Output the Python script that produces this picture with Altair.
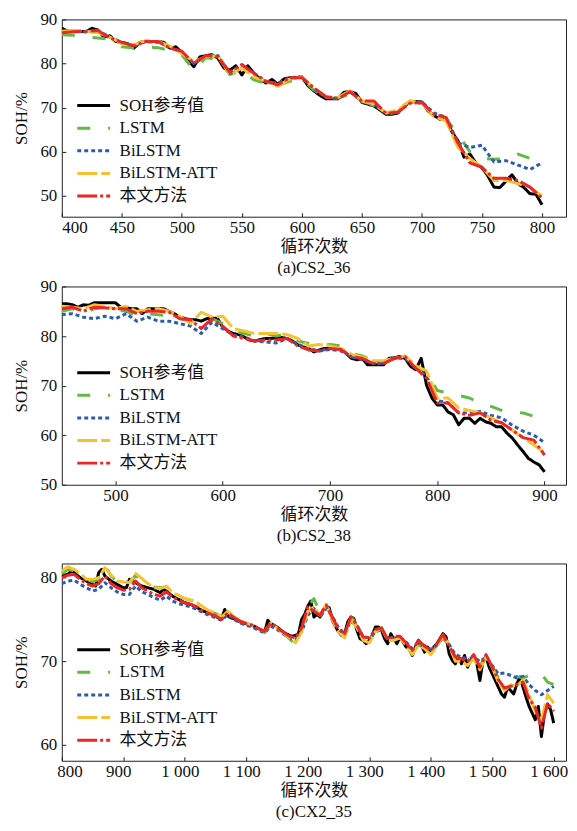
import altair as alt
import pandas as pd

SERIES = ["SOH参考值", "LSTM", "BiLSTM", "BiLSTM-ATT", "本文方法"]
COLORS = ["#000000", "#62ba46", "#2b5cae", "#f6c230", "#ea2726"]
DASHES = [[1, 0], [13, 18], [4, 3], [20, 4], [20, 3, 3, 3]]
WIDTHS = [3, 3, 3, 3, 3]
FONT = "'Liberation Serif', 'Times New Roman', 'Noto Sans CJK SC'"

# ---------------- (a) CS2_36 ----------------
a_ref_x = list(range(400, 801, 5))
a_ref = [88.0, 87.3, 87.3, 87.3, 87.2, 88.0, 87.6, 86.0, 86.3, 85.0,
         84.8, 84.5, 83.5, 84.8, 85.0, 85.0, 85.0, 84.8, 83.5, 83.8,
         82.5, 80.8, 79.3, 81.5, 81.8, 82.0, 81.2, 79.0, 78.5, 79.5,
         77.4, 79.5, 77.8, 76.5, 75.6, 76.4, 75.3, 76.5, 76.8, 76.8,
         77.0, 75.0, 73.8, 72.8, 72.0, 72.0, 72.0, 73.5, 73.7, 73.2,
         71.2, 70.8, 70.4, 69.5, 68.5, 68.5, 68.8, 70.5, 71.3, 71.4,
         71.3, 69.3, 68.2, 67.4, 67.5, 64.5, 62.5, 58.8, 59.5, 57.4,
         56.4, 54.5, 52.0, 51.9, 53.4, 54.8, 52.8, 51.9, 50.5, 50.4,
         48.0]
a_pred_x = list(range(400, 801, 10))
a_lstm = [86.5, 86.4, 86.0, 85.8, 85.5, 83.8, 83.5, 83.8, 83.6, 83.0,
          82.0, 78.5, 81.3, 81.0, 77.5, 78.5, 76.3, 75.5, 75.0, 76.0,
          76.5, 74.0, 72.3, 72.3, 73.0, 71.5, 70.5, 68.5, 69.0, 71.0,
          71.0, 68.5, 67.5, 64.0, 60.0, 58.5, 58.3, 58.5, 59.5, 58.5,
          58.0]
a_bilstm = [87.3, 87.3, 87.2, 87.5, 86.0, 84.8, 84.0, 85.0, 84.8, 83.8,
            82.5, 80.0, 81.7, 81.8, 77.8, 79.0, 77.8, 76.0, 75.5, 76.8,
            77.0, 74.2, 72.3, 72.0, 73.8, 71.3, 70.8, 68.8, 69.0, 71.3,
            71.3, 68.8, 67.8, 62.0, 61.0, 61.5, 57.7, 58.0, 57.0, 56.0,
            57.5]
a_att = [87.3, 87.5, 87.3, 87.0, 86.0, 84.5, 84.3, 85.2, 85.0, 84.0,
         82.3, 80.5, 81.5, 81.8, 77.5, 79.0, 77.0, 76.0, 74.8, 76.5,
         77.0, 74.5, 72.5, 72.3, 73.8, 71.5, 70.8, 68.8, 69.5, 71.6,
         71.0, 68.0, 67.0, 61.0, 58.5, 56.5, 53.5, 53.5, 52.8, 52.0,
         50.0]
a_ours = [87.0, 87.2, 87.3, 87.5, 85.8, 84.8, 84.0, 85.0, 85.0, 83.5,
          82.8, 80.0, 81.8, 81.5, 78.0, 79.8, 77.8, 76.0, 75.2, 76.8,
          76.8, 74.5, 72.5, 72.0, 73.6, 71.5, 71.5, 68.7, 69.0, 71.0,
          71.2, 68.5, 67.8, 62.0, 57.5, 56.5, 54.0, 54.0, 53.5, 52.0,
          49.5]

# ---------------- (b) CS2_38 ----------------
b_ref_x = list(range(450, 901, 5))
b_ref = [86.5, 86.5, 86.3, 85.8, 86.3, 86.2, 86.7, 86.7, 86.7, 86.7,
         86.7, 85.8, 85.7, 85.5, 85.5, 84.5, 85.5, 85.5, 85.5, 85.5,
         85.0, 84.5, 83.8, 83.5, 83.3, 83.3, 83.0, 83.5, 83.6, 83.6,
         81.8, 81.0, 80.5, 80.3, 79.8, 79.2, 79.0, 79.3, 79.5, 79.5,
         79.7, 79.7, 79.5, 79.0, 78.2, 77.8, 77.5, 76.8, 77.2, 77.5,
         77.5, 77.4, 77.5, 76.5, 75.5, 75.2, 75.5, 74.2, 74.2, 74.2,
         74.2, 75.5, 75.6, 75.9, 75.5, 73.9, 73.2, 75.5, 70.1, 67.5,
         66.1, 66.1, 64.7, 64.1, 62.1, 63.4, 63.4, 62.4, 63.4, 62.7,
         62.4, 61.7, 61.7, 60.4, 59.4, 58.0, 56.7, 55.3, 54.6, 54.0,
         52.6]
b_pred_x = list(range(450, 901, 10))
b_lstm = [85.0, 85.5, 84.5, 85.5, 85.8, 85.3, 85.0, 84.0, 84.5, 84.3,
          84.0, 83.5, 83.0, 83.5, 83.5, 82.5, 81.0, 80.5, 80.0, 80.5,
          80.0, 80.5, 79.0, 78.5, 78.0, 78.3, 78.0, 76.5, 76.0, 75.0,
          75.0, 75.5, 75.5, 73.5, 72.8, 69.0, 68.5, 68.0, 67.5, 66.5,
          65.8, 65.0, 64.5, 64.5, 63.8, 63.3]
b_bilstm = [84.3, 84.5, 83.8, 83.5, 84.0, 83.5, 84.5, 83.0, 83.8, 83.0,
            83.0, 82.5, 82.0, 80.5, 82.8, 81.5, 80.2, 79.8, 79.0, 78.8,
            78.6, 79.5, 78.3, 77.5, 77.0, 77.3, 77.0, 75.8, 75.2, 74.5,
            74.5, 75.5, 75.5, 73.5, 72.0, 67.0, 66.5, 64.5, 64.5, 64.8,
            64.0, 63.5, 62.0, 60.8, 60.0, 58.5]
b_att = [86.0, 85.8, 85.5, 86.3, 86.0, 85.5, 86.0, 85.0, 85.3, 85.5,
         85.0, 84.0, 82.5, 84.8, 83.8, 84.0, 81.5, 81.0, 80.5, 80.5,
         80.5, 80.3, 79.5, 78.0, 78.3, 78.0, 77.5, 76.3, 75.8, 75.0,
         75.0, 75.5, 76.0, 74.0, 73.0, 67.5, 67.5, 65.5, 65.0, 64.5,
         63.5, 62.5, 61.0, 59.5, 58.0, 56.5]
b_ours = [85.5, 85.8, 85.0, 85.8, 85.7, 85.5, 85.5, 84.5, 85.0, 85.0,
          84.8, 83.5, 83.3, 81.5, 83.5, 82.0, 80.0, 79.5, 79.0, 79.2,
          79.2, 79.5, 78.0, 77.2, 77.0, 77.5, 77.3, 75.8, 75.5, 74.5,
          74.5, 75.5, 75.8, 73.5, 71.5, 66.5, 66.5, 64.5, 64.0, 64.5,
          63.0, 62.5, 61.0, 59.5, 59.0, 56.0]

# ---------------- (c) CX2_35 ----------------
c_ref_x = list(range(800, 1601, 5))
c_ref = [80.1, 80.3, 80.4, 80.8, 80.6, 80.3, 80.0, 79.8, 79.6, 79.4,
         79.2, 79.0, 80.6, 81.0, 80.2, 79.9, 79.6, 79.4, 79.2, 79.0,
         78.8, 78.8, 79.8, 79.6, 79.4, 79.2, 79.0, 78.9, 78.8, 78.7,
         78.6, 78.4, 78.2, 78.6, 78.4, 78.1, 77.8, 77.6, 77.4, 77.2,
         77.0, 76.9, 76.8, 76.6, 76.4, 76.2, 76.0, 75.9, 75.8, 75.6,
         75.4, 75.2, 75.1, 76.2, 75.4, 75.2, 75.1, 74.9, 74.7, 74.6,
         74.5, 74.4, 74.3, 74.1, 73.9, 73.7, 73.5, 74.9, 74.5, 74.3,
         74.1, 73.8, 73.5, 73.3, 73.1, 73.0, 73.1, 73.3, 75.0, 75.6,
         76.6, 77.2, 75.3, 75.6, 75.3, 76.2, 76.6, 76.4, 74.9, 74.2,
         73.5, 73.1, 73.3, 74.7, 75.3, 75.1, 73.7, 72.7, 72.5, 72.1,
         72.5, 73.1, 74.1, 74.1, 73.7, 72.7, 72.1, 73.3, 72.7, 72.1,
         72.9, 72.3, 71.7, 71.5, 70.7, 71.7, 72.5, 71.9, 71.1, 71.7,
         70.9, 71.7, 72.1, 72.7, 73.3, 72.9, 70.9, 70.1, 69.7, 70.5,
         69.7, 70.7, 69.3, 70.1, 70.5, 69.7, 67.7, 70.1, 70.5, 69.3,
         68.5, 67.7, 66.9, 66.1, 65.7, 66.9, 66.5, 66.1, 67.3, 68.1,
         66.9, 65.7, 64.6, 63.8, 63.0, 64.6, 61.0, 63.8, 64.9, 64.2,
         62.6]
c_pred_x = list(range(800, 1601, 10))
c_lstm = [80.5, 81.0, 80.8, 80.3, 79.8, 79.5, 79.8, 81.5, 80.2, 79.5,
          79.3, 79.2, 80.3, 79.6, 79.2, 78.9, 78.8, 78.9, 78.2, 77.8,
          77.5, 77.3, 77.2, 76.5, 76.0, 75.7, 75.3, 76.0, 75.3, 74.8,
          74.5, 74.3, 73.9, 73.5, 74.5, 74.0, 73.3, 72.7, 72.0, 73.8,
          76.5, 77.5, 75.8, 76.8, 75.2, 73.6, 73.0, 75.5, 74.2, 72.8,
          72.6, 73.6, 74.0, 72.7, 72.7, 72.9, 72.0, 71.0, 72.0, 71.6,
          71.0, 71.9, 73.0, 71.8, 70.5, 70.3, 69.8, 70.4, 69.5, 70.5,
          69.5, 68.0, 67.7, 68.0, 68.2, 68.0, 68.3, 68.2, 68.5, 67.5,
          67.2]
c_bilstm = [79.3, 79.6, 79.7, 79.2, 78.8, 78.4, 78.6, 79.4, 78.8, 78.3,
            78.0, 78.0, 79.0, 78.3, 78.0, 77.6, 77.3, 77.8, 77.2, 76.9,
            76.7, 76.5, 76.2, 75.8, 75.5, 75.2, 74.9, 75.6, 75.0, 74.6,
            74.3, 74.1, 73.7, 73.4, 74.2, 73.8, 73.3, 72.8, 72.6, 73.5,
            75.5, 76.3, 75.3, 76.3, 75.4, 74.0, 73.3, 74.8, 74.2, 73.0,
            72.8, 73.5, 73.8, 72.8, 72.8, 72.8, 72.3, 71.5, 72.0, 71.9,
            71.4, 72.0, 72.8, 72.0, 70.8, 70.5, 70.3, 70.5, 70.0, 70.5,
            69.5, 68.5, 68.6, 68.3, 68.0, 68.2, 67.2, 66.5, 66.0, 66.5,
            67.0]
c_att = [80.8, 81.3, 81.0, 80.5, 79.8, 79.8, 80.0, 81.2, 80.3, 79.6,
         79.5, 79.4, 80.5, 79.9, 79.3, 78.8, 78.7, 79.0, 78.2, 77.9,
         77.5, 77.3, 77.0, 76.5, 76.0, 75.8, 75.3, 76.0, 75.4, 74.8,
         74.6, 74.3, 73.9, 73.6, 74.6, 74.0, 73.4, 72.8, 72.2, 73.5,
         76.0, 76.5, 75.5, 76.8, 75.0, 73.5, 72.8, 75.0, 74.0, 72.5,
         72.2, 73.5, 74.0, 72.5, 72.5, 72.8, 71.9, 70.8, 72.0, 71.5,
         70.8, 71.8, 73.0, 72.0, 70.0, 70.0, 69.5, 70.3, 69.0, 70.5,
         69.3, 67.5, 66.5, 67.2, 67.0, 67.8, 66.0, 64.0, 63.0, 66.0,
         65.0]
c_ours = [80.0, 80.3, 80.4, 79.8, 79.3, 79.0, 79.3, 80.2, 79.3, 78.8,
          78.5, 78.6, 79.6, 78.8, 78.4, 78.0, 77.8, 78.3, 77.7, 77.3,
          77.0, 76.8, 76.5, 76.0, 75.7, 75.4, 75.0, 75.8, 75.2, 74.8,
          74.5, 74.3, 73.9, 73.6, 74.6, 74.0, 73.5, 73.0, 72.8, 74.0,
          76.5, 76.0, 75.5, 76.7, 75.3, 73.8, 73.3, 75.3, 74.3, 72.9,
          72.8, 73.8, 74.0, 72.6, 73.0, 73.0, 72.2, 71.3, 72.5, 71.8,
          71.3, 72.1, 73.2, 71.8, 70.5, 70.3, 70.0, 70.8, 69.3, 70.8,
          69.3, 67.8, 66.8, 67.0, 67.2, 67.5, 65.5, 64.5, 62.0, 65.0,
          64.0]


def make_df(ref_x, ref_y, pred_x, preds):
    rows = [{"cycle": x, "soh": y, "series": SERIES[0]} for x, y in zip(ref_x, ref_y)]
    for name, vals in zip(SERIES[1:], preds):
        rows += [{"cycle": x, "soh": y, "series": name} for x, y in zip(pred_x, vals)]
    return pd.DataFrame(rows)


LABEL_EXPR = ("datum.value >= 1000 ? floor(datum.value / 1000) + ' ' + "
              "format(datum.value % 1000, '03d') : '' + datum.value")


def panel(df, xdom, xticks, ydom, yticks, caption, height, label_offset=0):
    color = alt.Color("series:N", title=None,
                      scale=alt.Scale(domain=SERIES, range=COLORS))
    dash = alt.StrokeDash("series:N", title=None,
                          scale=alt.Scale(domain=SERIES, range=DASHES))
    x = alt.X("cycle:Q", scale=alt.Scale(domain=xdom, nice=False, zero=False),
              axis=alt.Axis(values=xticks, title="循环次数", labelExpr=LABEL_EXPR,
                            labelOffset=label_offset))
    y = alt.Y("soh:Q", scale=alt.Scale(domain=ydom, nice=False, zero=False),
              axis=alt.Axis(values=yticks, title="SOH/%"))
    layers = []
    for i, s in enumerate(SERIES):
        layers.append(
            alt.Chart(df)
            .transform_filter(alt.datum.series == s)
            .mark_line(strokeWidth=WIDTHS[i], clip=True, strokeCap="butt",
                       strokeJoin="round")
            .encode(x=x, y=y, color=color, strokeDash=dash, order="cycle:Q")
        )
    return alt.layer(*layers).properties(
        width=506, height=height,
        title=alt.TitleParams(caption, orient="bottom", anchor="middle",
                              frame="group", offset=5),
    )


pa = panel(make_df(a_ref_x, a_ref, a_pred_x, [a_lstm, a_bilstm, a_att, a_ours]),
           [400, 820], list(range(400, 801, 50)), [45.3, 90], [50, 60, 70, 80, 90],
           "(a)CS2_36", 198)
pb = panel(make_df(b_ref_x, b_ref, b_pred_x, [b_lstm, b_bilstm, b_att, b_ours]),
           [450, 920], list(range(500, 901, 100)), [50, 90], [50, 60, 70, 80, 90],
           "(b)CS2_38", 199)
pc = panel(make_df(c_ref_x, c_ref, c_pred_x, [c_lstm, c_bilstm, c_att, c_ours]),
           [800, 1620], list(range(800, 1601, 100)), [58.1, 81.7], [60, 70, 80],
           "(c)CX2_35", 198, label_offset=-5)

top = alt.vconcat(pa, pb, spacing=0).resolve_scale(color="independent",
                                                   strokeDash="independent")

chart = (
    alt.vconcat(top, pc, spacing=18)
    .resolve_scale(color="independent", strokeDash="independent")
    .properties(padding={"left": 4, "top": 0, "right": 0, "bottom": 0})
    .configure_view(stroke="#222222", strokeWidth=1)
    .configure_axis(domain=False, grid=False, tickSize=4, offset=-4, tickColor="#222222",
                    labelFont=FONT, labelFontSize=17, labelColor="#111111",
                    titleFont=FONT, titleFontSize=17, titleFontWeight="normal",
                    titleColor="#111111")
    .configure_axisX(labelPadding=3, titlePadding=3)
    .configure_axisY(labelPadding=5, titlePadding=9)
    .configure_legend(orient="none", legendX=14, legendY=78, symbolType="stroke",
                      symbolSize=1089, symbolStrokeWidth=3, labelFont=FONT,
                      labelFontSize=17, labelColor="#111111", labelOffset=8,
                      rowPadding=4.7, clipHeight=17, padding=0)
    .configure_title(font=FONT, fontSize=17, fontWeight="normal", color="#111111")
)

chart.save("out.html", embed_options={"renderer": "svg", "actions": False})
